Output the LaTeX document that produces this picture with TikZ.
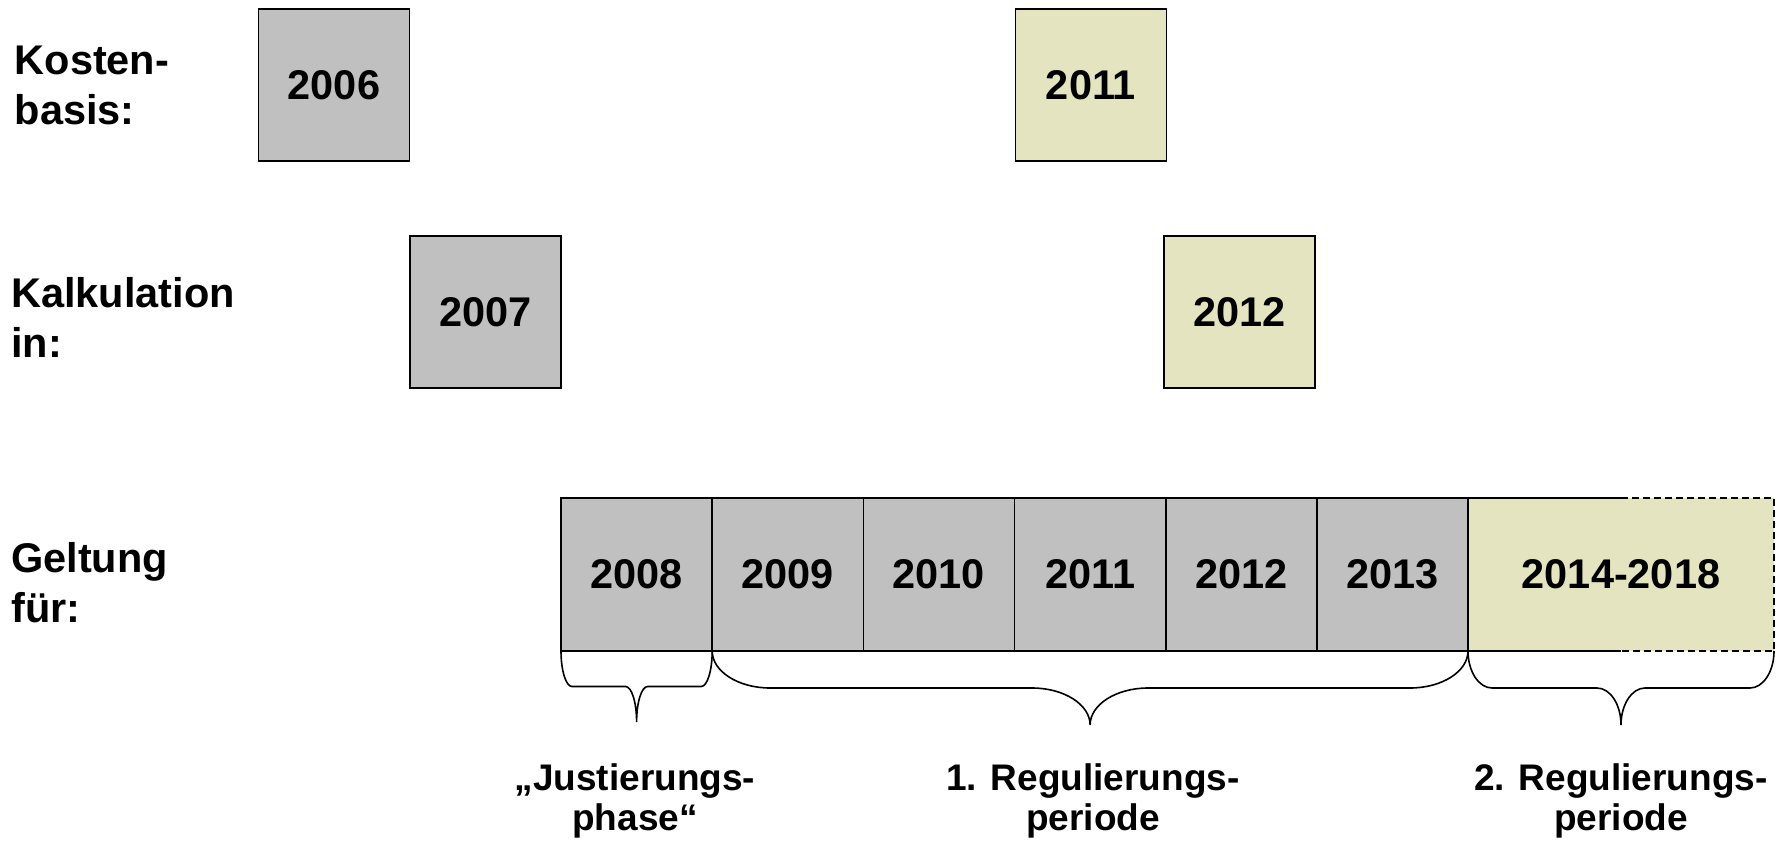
\documentclass[tikz,border=0pt]{standalone}
\usepackage{fontspec}
\setmainfont{Liberation Sans}
\usetikzlibrary{calc}
\definecolor{boxgray}{HTML}{C0C0C0}
\definecolor{boxyellow}{HTML}{E4E4C0}
\tikzset{
  boxline/.style={draw=black, line width=1.6pt},
  yearbox/.style={boxline, fill=boxgray, minimum width=151.2pt, minimum height=152pt,
    inner sep=0pt, outer sep=0pt, font=\fontsize{41.5}{50}\selectfont\bfseries},
  newbox/.style={yearbox, fill=boxyellow},
  sidelabel/.style={anchor=north west, inner sep=0pt, align=left,
    font=\fontsize{41.5}{50}\selectfont\bfseries},
  bottomlabel/.style={anchor=north, inner sep=0pt, align=center,
    font=\fontsize{37}{40}\selectfont\bfseries},
  bracestyle/.style={draw=black, line width=1.6pt}
}
\newcommand\mybrace[4]{%
  \draw[bracestyle] let \p1=(#1), \p2=(#2), \n1={0.5*(\x1+\x2)} in
  (\p1) .. controls (\x1,\y1-0.552*#4) and (\x1+0.448*#3,\y1-#4) .. (\x1+#3,\y1-#4)
  -- (\n1-#3,\y1-#4)
  .. controls (\n1-0.448*#3,\y1-#4) and (\n1,\y1-1.448*#4) .. (\n1,\y1-2*#4)
  .. controls (\n1,\y1-1.448*#4) and (\n1+0.448*#3,\y1-#4) .. (\n1+#3,\y1-#4)
  -- (\x2-#3,\y1-#4)
  .. controls (\x2-0.448*#3,\y1-#4) and (\x2,\y1-0.552*#4) .. (\p2);
}
\begin{document}
\begin{tikzpicture}[x=1pt, y=-1pt]
\useasboundingbox (0,0) rectangle (1777,841);
% side labels
\node[sidelabel] (lk) at (14.5,45.5) {Kosten-\\basis:};
\node[sidelabel] (lc) at (11,277) {Kalkulation\\in:};
\node[sidelabel] (lg) at (11,542) {Geltung\\für:};
% top rows
\node[yearbox] (k2006) at (334,85) {2006};
\node[newbox]  (k2011) at (1091,85) {2011};
\node[yearbox] (c2007) at (485.5,312) {2007};
\node[newbox]  (c2012) at (1239.5,312) {2012};
% bottom row
\node[yearbox, minimum height=153pt] (b2008) at (636.6,574.5) {2008};
\node[yearbox, minimum height=153pt] (b2009) at (787.8,574.5) {2009};
\node[yearbox, minimum height=153pt] (b2010) at (938.9,574.5) {2010};
\node[yearbox, minimum height=153pt] (b2011) at (1090.1,574.5) {2011};
\node[yearbox, minimum height=153pt] (b2012) at (1241.3,574.5) {2012};
\node[yearbox, minimum height=153pt] (b2013) at (1392.4,574.5) {2013};
\node[fill=boxyellow, minimum width=306pt, minimum height=153pt, inner sep=0pt, outer sep=0pt,
  font=\fontsize{41.5}{50}\selectfont\bfseries] (b1418) at (1621,574.5) {2014-2018};
\draw[boxline] (b1418.north) -- (b1418.north west) -- (b1418.south west) -- (b1418.south);
\draw[boxline, dash pattern=on 7pt off 4pt] (b1418.north) -- (b1418.north east) -- (b1418.south east) -- (b1418.south);
% braces
\mybrace{b2008.south west}{b2008.south east}{11}{35.5}
\mybrace{b2009.south west}{b2013.south east}{58}{37}
\mybrace{b1418.south west}{b1418.south east}{24}{37}
% bottom labels
\node[bottomlabel] (lj) at (635,763.5) {„Justierungs-\\phase“};
\node[bottomlabel] (lr1) at (1093,763.5) {1. Regulierungs-\\periode};
\node[bottomlabel] (lr2) at (1621,763.5) {2. Regulierungs-\\periode};
\end{tikzpicture}
\end{document}
